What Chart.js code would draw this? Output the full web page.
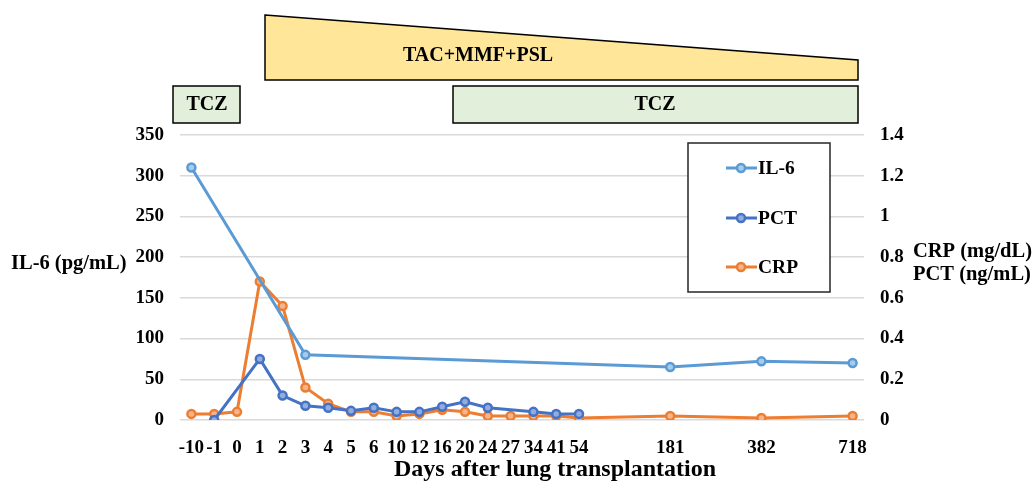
<!DOCTYPE html>
<html>
<head>
<meta charset="utf-8">
<script src="https://cdn.jsdelivr.net/npm/chart.js@4.4.1/dist/chart.umd.min.js"></script>
<style>
  html, body { margin: 0; padding: 0; background: #ffffff; }
  #wrap { width: 1035px; height: 484px; position: relative; }
</style>
</head>
<body>
<div id="wrap"><canvas id="c" width="1035" height="484"></canvas></div>
<script>
// ---- data ----
const categories = ['-10','-1','0','1','2','3','4','5','6','10','12','16','20','24','27','34','41','54',
                    '','','','181','','','','382','','','','718'];
const il6 = [310, null, null, null, null, 80, null, null, null, null, null, null, null, null, null, null, null, null,
             null, null, null, 65, null, null, null, 72, null, null, null, 70];
const pct = [null, 0, null, 0.30, 0.12, 0.07, 0.06, 0.045, 0.06, 0.04, 0.04, 0.065, 0.09, 0.06, null, 0.04, 0.03, 0.03,
             null, null, null, null, null, null, null, null, null, null, null, null];
const crp = [0.03, 0.03, 0.04, 0.68, 0.56, 0.16, 0.08, 0.04, 0.04, 0.02, 0.03, 0.05, 0.04, 0.02, 0.02, 0.02, 0.02, 0.01,
             null, null, null, 0.02, null, null, null, 0.01, null, null, null, 0.02];
const seriesNames = ['IL-6', 'PCT', 'CRP'];
const leftAxisTitle = 'IL-6 (pg/mL)';
const rightAxisTitle = ['CRP (mg/dL)', 'PCT (ng/mL)'];
const xAxisTitle = 'Days after lung transplantation';
const therapyLabels = ['TAC+MMF+PSL', 'TCZ', 'TCZ'];

const colors = { il6: '#5B9BD5', pct: '#4472C4', crp: '#ED7D31' };
const fills  = { il6: '#A9CBEA', pct: '#94ABDD', crp: '#F5B58C' };
const FONT = '"Liberation Serif", "Times New Roman", serif';

const overlay = {
  id: 'overlay',
  afterDatasetsDraw(chart) {
    const ctx = chart.ctx;
    // legend box
    ctx.save();
    ctx.fillStyle = '#ffffff';
    ctx.strokeStyle = '#262626';
    ctx.lineWidth = 1.5;
    ctx.fillRect(688, 143, 142, 149);
    ctx.strokeRect(688, 143, 142, 149);
    const ys = [168, 218, 267];
    chart.data.datasets.forEach((ds, i) => {
      const y = ys[i];
      ctx.strokeStyle = ds.borderColor;
      ctx.lineWidth = 3;
      ctx.beginPath(); ctx.moveTo(726, y); ctx.lineTo(757, y); ctx.stroke();
      ctx.beginPath(); ctx.arc(741, y, 4, 0, Math.PI * 2);
      ctx.fillStyle = ds.pointBackgroundColor; ctx.fill();
      ctx.lineWidth = 2.5; ctx.strokeStyle = ds.borderColor; ctx.stroke();
      ctx.fillStyle = '#000000';
      ctx.font = 'bold 19.5px ' + FONT;
      ctx.textAlign = 'left'; ctx.textBaseline = 'middle';
      ctx.fillText(ds.label, 758, y + 1);
    });
    ctx.restore();
  },
  afterDraw(chart) {
    const ctx = chart.ctx;
    ctx.save();
    // axis titles
    ctx.fillStyle = '#000000';
    ctx.font = 'bold 20.5px ' + FONT;
    ctx.textBaseline = 'middle';
    ctx.textAlign = 'left';
    ctx.fillText(leftAxisTitle, 11, 264);
    ctx.fillText(rightAxisTitle[0], 913, 252);
    ctx.fillText(rightAxisTitle[1], 913, 275);
    ctx.textAlign = 'center';
    ctx.font = 'bold 24px ' + FONT;
    ctx.fillText(xAxisTitle, 555, 470);

    // therapy trapezoid
    ctx.fillStyle = '#FFE699';
    ctx.strokeStyle = '#000000';
    ctx.lineWidth = 1.5;
    ctx.beginPath();
    ctx.moveTo(265, 15); ctx.lineTo(858, 60); ctx.lineTo(858, 80); ctx.lineTo(265, 80); ctx.closePath();
    ctx.fill(); ctx.stroke();
    // TCZ boxes
    ctx.fillStyle = '#E2EFDA';
    ctx.fillRect(173, 86, 67, 37); ctx.strokeRect(173, 86, 67, 37);
    ctx.fillRect(453, 86, 405, 37); ctx.strokeRect(453, 86, 405, 37);
    ctx.fillStyle = '#000000';
    ctx.font = 'bold 20px ' + FONT;
    ctx.textAlign = 'center';
    ctx.fillText(therapyLabels[0], 478, 56);
    ctx.fillText(therapyLabels[1], 207, 105);
    ctx.fillText(therapyLabels[2], 655, 105);
    ctx.restore();
  }
};

const tickFont = { family: FONT, size: 19, weight: 'bold' };

new Chart(document.getElementById('c'), {
  type: 'line',
  data: {
    labels: categories,
    datasets: [
      { label: seriesNames[0], data: il6, yAxisID: 'y', borderColor: colors.il6, pointBackgroundColor: fills.il6,
        pointBorderColor: colors.il6 },
      { label: seriesNames[1], data: pct, yAxisID: 'y1', borderColor: colors.pct, pointBackgroundColor: fills.pct,
        pointBorderColor: colors.pct },
      { label: seriesNames[2], data: crp, yAxisID: 'y1', borderColor: colors.crp, pointBackgroundColor: fills.crp,
        pointBorderColor: colors.crp }
    ]
  },
  options: {
    responsive: false,
    animation: false,
    spanGaps: true,
    layout: { padding: { top: 135, left: 0, right: 0, bottom: 0 } },
    elements: {
      line: { borderWidth: 3, tension: 0 },
      point: { radius: 4, borderWidth: 2.5, hoverRadius: 4 }
    },
    plugins: { legend: { display: false }, tooltip: { enabled: false } },
    scales: {
      x: {
        type: 'category',
        offset: true,
        grid: { display: false },
        border: { display: false },
        ticks: { autoSkip: false, maxRotation: 0, minRotation: 0, padding: 9, color: '#000', font: tickFont },
        afterFit(s) { s.height = 64; }
      },
      y: {
        position: 'left',
        min: 0, max: 350,
        ticks: { stepSize: 50, padding: 16, color: '#000', font: tickFont },
        grid: { color: '#D9D9D9', lineWidth: 1.5, drawTicks: false },
        border: { display: false },
        afterFit(s) { s.width = 180; }
      },
      y1: {
        position: 'right',
        min: 0, max: 1.4,
        ticks: { stepSize: 0.2, padding: 16, color: '#000', font: tickFont,
                 callback: (v) => String(Math.round(v * 10) / 10) },
        grid: { display: false, drawTicks: false },
        border: { display: false },
        afterFit(s) { s.width = 171; }
      }
    }
  },
  plugins: [overlay]
});
</script>
</body>
</html>
